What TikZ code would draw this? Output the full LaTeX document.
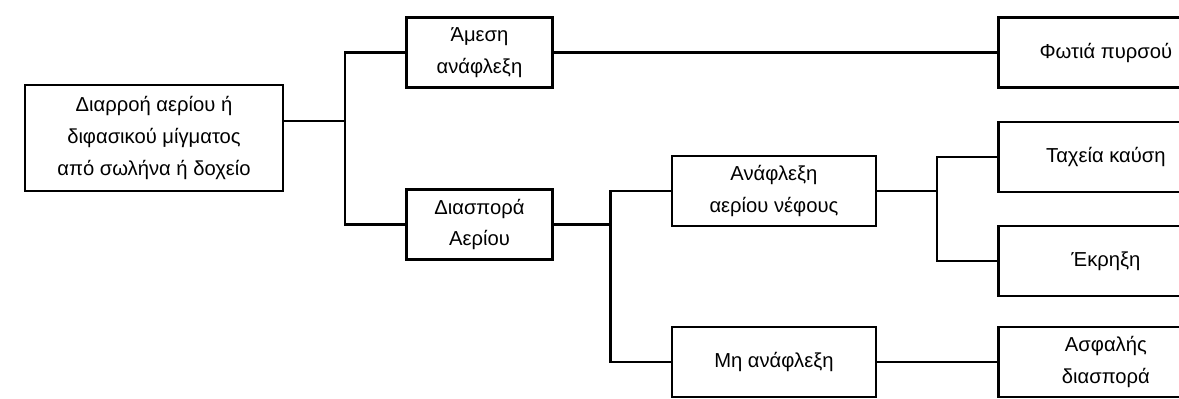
\documentclass[tikz,border=0pt]{standalone}
\usepackage{fontspec}
\setmainfont{Liberation Sans}
\usetikzlibrary{positioning,calc}

\begin{document}
\begin{tikzpicture}[node distance=2.42cm,every node/.style={font=\fontsize{11.5}{18}\selectfont,align=center},box/.style={draw,line width=1.4pt,minimum width=2.92cm,minimum height=1.4cm,inner sep=2pt},wide/.style={box,minimum width=4.08cm},leaf/.style={box,minimum width=4.3cm},link/.style={line width=1.4pt}]
\useasboundingbox (0,0) rectangle (23.58,-7.96);
\node[box,minimum width=5.16cm,minimum height=2.12cm] (leak) at (3.08,-2.76) {Διαρροή αερίου ή\\διφασικού μίγματος\\από σωλήνα ή δοχείο};
\node[box,right=of leak,yshift=1.71cm] (direct) {Άμεση\\ανάφλεξη};
\node[box,right=of leak,yshift=-1.73cm] (disp) {Διασπορά\\Αερίου};
\node[wide,right=2.34cm of disp,yshift=0.67cm] (cloud) {Ανάφλεξη\\αερίου νέφους};
\node[wide,right=2.34cm of disp,yshift=-2.75cm] (noign) {Μη ανάφλεξη};
\node[leaf,right=2.4cm of cloud,yshift=2.77cm] (jet) {Φωτιά πυρσού};
\node[leaf,right=2.4cm of cloud,yshift=0.68cm] (fast) {Ταχεία καύση};
\node[leaf,right=2.4cm of cloud,yshift=-1.4cm] (blast) {Έκρηξη};
\node[leaf,right=2.4cm of noign] (safe) {Ασφαλής\\διασπορά};
\coordinate[right=1.21cm of leak.east] (fork1);
\coordinate[right=1.14cm of disp.east] (fork2);
\coordinate[right=1.2cm of cloud.east] (fork3);
\draw[link] ([yshift=0.34cm]leak.east) -- ([yshift=0.34cm]fork1);
\draw[link] (direct.west) -| (fork1) |- (disp.west);
\draw[link] (direct.east) -- (direct.east -| jet.west);
\draw[link] (disp.east) -- (fork2);
\draw[link] (cloud.west) -| (fork2) |- (noign.west);
\draw[link] (cloud.east) -- (fork3);
\draw[link] (fast.west) -| (fork3) |- (blast.west);
\draw[link] (noign) -- (safe);
\end{tikzpicture}
\end{document}
